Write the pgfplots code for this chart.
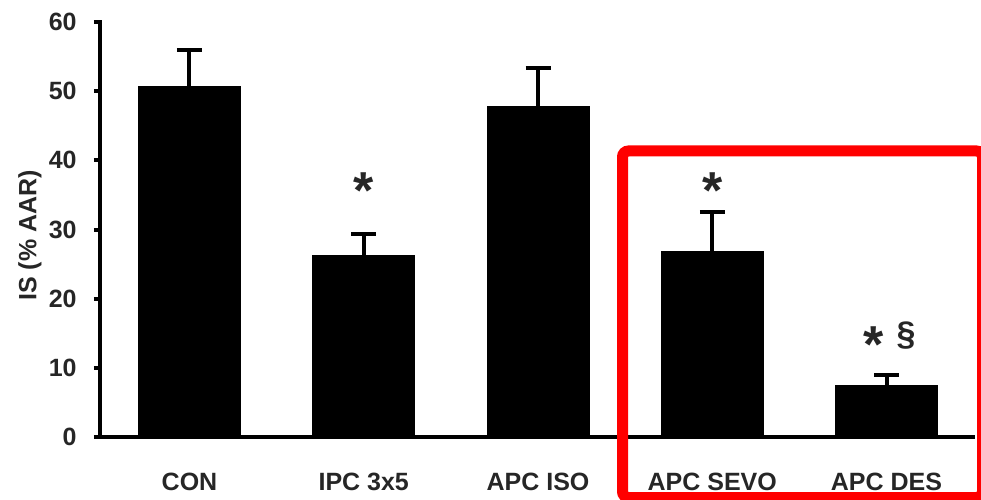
\documentclass[border=0pt]{standalone}
\usepackage{fontspec}
\setmainfont{Liberation Sans}
\usepackage{pgfplots}
\usepackage{pgfplotstable}
\pgfplotsset{compat=1.18}
\pgfplotstableread{
x y err
0 50.7 5.2
1 26.2 3.2
2 47.75 5.55
3 26.8 5.8
4 7.5 1.5
}\datatable
\begin{document}
\begin{tikzpicture}
\useasboundingbox (0pt,0pt) rectangle (490.5pt,249.5pt);
\begin{scope}
\clip (0pt,0pt) rectangle (490.5pt,249.5pt);
\begin{axis}[
 at={(50pt,31pt)}, anchor=south west,
 scale only axis, width=436.5pt, height=207.5pt,
 xmin=-0.5136, xmax=4.4964, ymin=0, ymax=60,
 axis x line=bottom, axis y line=left,
 axis line style={-, line width=2pt, line cap=rect},
 xtick={0,1,2,3,4},
 xticklabels={CON,IPC 3x5,APC ISO,APC SEVO,APC DES},
 ytick={0,10,...,60},
 tick align=outside, major tick length=3pt,
 xtick style={draw=none},
 ytick style={line width=2pt, black},
 /pgf/number format/assume math mode=true,
 ticklabel style={font=\fontsize{12.5}{15}\selectfont\bfseries, text=black!85},
 yticklabel style={anchor=east, inner sep=0pt, xshift=-8.5pt},
 xticklabel style={anchor=north, inner sep=0pt, yshift=-15pt},
 ylabel={IS (\% AAR)},
 ylabel style={font=\fontsize{12.5}{15}\selectfont\bfseries, text=black!85, at={(axis description cs:-0.0802,0.486)}, anchor=center},
 clip=false,
]
\addplot[ybar, bar width=51pt, fill=black, draw=black, line width=0.5pt,
  error bars/.cd, y dir=plus, y explicit,
  error bar style={line width=2pt, black},
  error mark options={rotate=90, mark size=6.25pt, line width=2pt, black}]
  table[x=x, y=y, y error=err]{\datatable};
\node[anchor=north, inner sep=0pt, font=\fontsize{26}{26}\selectfont\bfseries, text=black!85] at (axis cs:1,38.3) {*};
\node[anchor=north, inner sep=0pt, font=\fontsize{26}{26}\selectfont\bfseries, text=black!85] at (axis cs:3,38.3) {*};
\node[anchor=north, inner sep=0pt, font=\fontsize{26}{26}\selectfont\bfseries, text=black!85] at (axis cs:3.928,15.95) {*};
\node[anchor=north, inner sep=0pt, font=\fontsize{17}{17}\selectfont\bfseries, text=black!85] at (axis cs:4.112,16.7) {\S};
\end{axis}
\draw[red, line width=5.5pt, rounded corners=3pt] (311.25pt,174pt) rectangle (491.25pt,0.75pt);
\end{scope}
\end{tikzpicture}
\end{document}
